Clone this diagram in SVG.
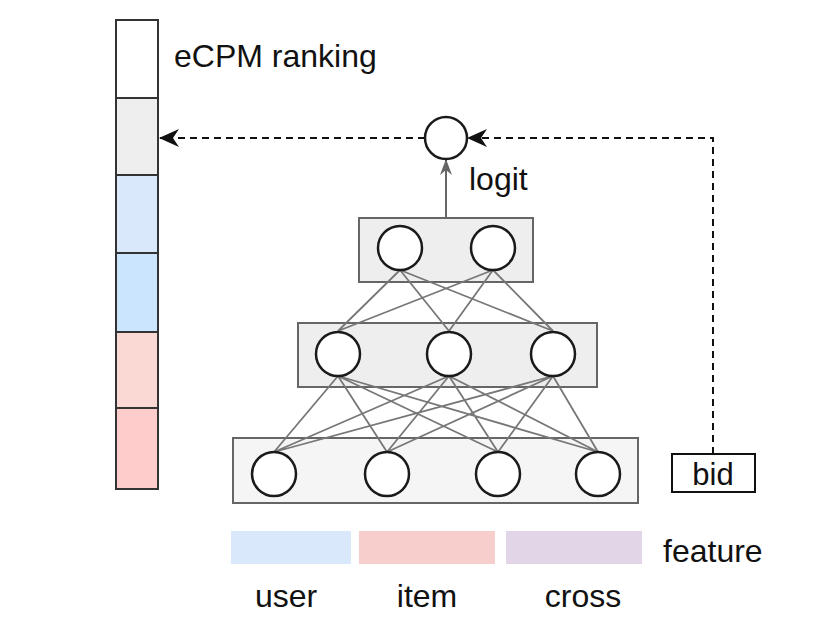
<svg xmlns="http://www.w3.org/2000/svg" width="826" height="640" viewBox="0 0 826 640">
<style>
  .txt { font-family: "Liberation Sans", Arial, sans-serif; font-size: 32px; fill: #111; }
  .cell { stroke: #333; stroke-width: 2; }
  .layer { stroke: #666; stroke-width: 2; }
  .neuron { fill: #fff; stroke: #1a1a1a; stroke-width: 2.5; }
  .edge { stroke: #777; stroke-width: 1.8; fill: none; }
  .dash { stroke: #111; stroke-width: 2; stroke-dasharray: 7 5; fill: none; }
</style>
<defs>
  <marker id="arrBlack" markerUnits="userSpaceOnUse" markerWidth="20" markerHeight="18" viewBox="0 0 20 18" refX="19" refY="9" orient="auto">
    <path d="M0,0 L20,9 L0,18 L6,9 z" fill="#111"/>
  </marker>
  <marker id="arrGray" markerUnits="userSpaceOnUse" markerWidth="16" markerHeight="12" viewBox="0 0 16 12" refX="15" refY="6" orient="auto">
    <path d="M0,0 L16,6 L0,12 L5,6 z" fill="#666"/>
  </marker>
</defs>

<g id="ranking">
  <rect class="cell" x="116" y="20" width="42" height="78" fill="#ffffff"/>
  <rect class="cell" x="116" y="98" width="42" height="77" fill="#eeeeee"/>
  <rect class="cell" x="116" y="175" width="42" height="78" fill="#dae8fc"/>
  <rect class="cell" x="116" y="253" width="42" height="79" fill="#cce5ff"/>
  <rect class="cell" x="116" y="332" width="42" height="76" fill="#fad9d5"/>
  <rect class="cell" x="116" y="408" width="42" height="81" fill="#ffcccc"/>
  <text class="txt" x="174" y="67">eCPM ranking</text>
</g>

<g id="layer-top">
  <rect class="layer" x="359" y="218" width="174" height="64" fill="#eeeeee"/>
</g>
<g id="layer-mid">
  <rect class="layer" x="298" y="323" width="299" height="64" fill="#eeeeee"/>
</g>
<g id="layer-bottom">
  <rect class="layer" x="233" y="438" width="405" height="65" fill="#f5f5f5"/>
</g>

<g id="connectors">
  <path class="edge" d="M400,270 L338,331 M400,270 L449,331 M400,270 L553,331 M493,270 L338,331 M493,270 L449,331 M493,270 L553,331"/>
  <path class="edge" d="M338,376 L274,452 M338,376 L387,452 M338,376 L498,452 M338,376 L598,452 M449,376 L274,452 M449,376 L387,452 M449,376 L498,452 M449,376 L598,452 M553,376 L274,452 M553,376 L387,452 M553,376 L498,452 M553,376 L598,452"/>
  <line x1="446" y1="218" x2="446" y2="160" stroke="#666" stroke-width="2" marker-end="url(#arrGray)"/>
  <path class="dash" d="M425,138 L160,138" marker-end="url(#arrBlack)"/>
  <path class="dash" d="M713,454 L713,138 L468,138" marker-end="url(#arrBlack)"/>
</g>

<g id="neurons-top">
  <circle class="neuron" cx="400" cy="248" r="22"/>
  <circle class="neuron" cx="493" cy="248" r="22"/>
</g>
<g id="neurons-mid">
  <circle class="neuron" cx="338" cy="354" r="22"/>
  <circle class="neuron" cx="449" cy="354" r="22"/>
  <circle class="neuron" cx="553" cy="354" r="22"/>
</g>
<g id="neurons-bottom">
  <circle class="neuron" cx="274" cy="474" r="22"/>
  <circle class="neuron" cx="387" cy="474" r="22"/>
  <circle class="neuron" cx="498" cy="474" r="22"/>
  <circle class="neuron" cx="598" cy="474" r="22"/>
</g>

<g id="output">
  <circle class="neuron" cx="446" cy="138" r="21"/>
  <text class="txt" x="469" y="190">logit</text>
</g>

<g id="bid">
  <rect x="672" y="454" width="83" height="38" fill="#fff" stroke="#111" stroke-width="2"/>
  <text class="txt" x="713" y="485" text-anchor="middle" style="font-size:31px">bid</text>
</g>

<g id="legend">
  <rect x="231" y="531" width="120" height="33" fill="#dae8fc"/>
  <rect x="359" y="531" width="136" height="33" fill="#f8cecc"/>
  <rect x="506" y="531" width="136" height="33" fill="#e1d5e7"/>
  <text class="txt" x="286" y="607" text-anchor="middle">user</text>
  <text class="txt" x="427" y="607" text-anchor="middle">item</text>
  <text class="txt" x="583" y="607" text-anchor="middle">cross</text>
  <text class="txt" x="663" y="562">feature</text>
</g>
</svg>
